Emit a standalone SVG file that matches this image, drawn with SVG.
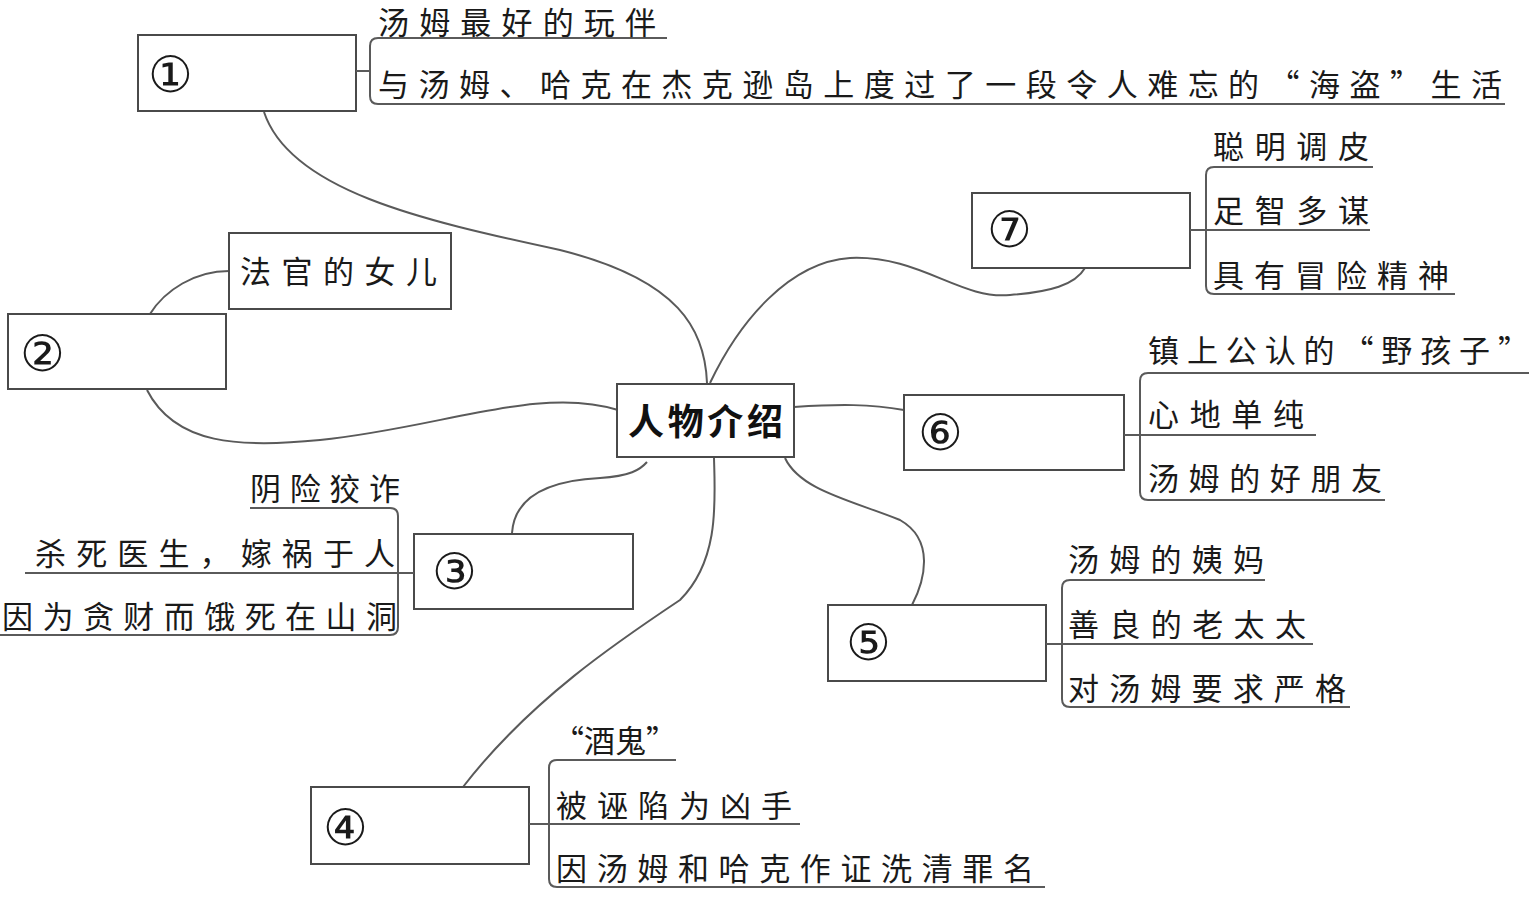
<svg xmlns="http://www.w3.org/2000/svg" width="1529" height="902" viewBox="0 0 1529 902">
<style>
.box{fill:#fff;stroke:#4a4a4a;stroke-width:2}
.ln{fill:none;stroke:#5a5a5a;stroke-width:2}
.br{fill:none;stroke:#5a5a5a;stroke-width:2}
.t{font-family:"Noto Sans CJK SC","Noto Sans",sans-serif;font-size:31px;fill:#1a1a1a}
.num{font-family:"Liberation Serif","DejaVu Serif",serif;font-size:50px;fill:#1a1a1a}
.c{font-family:"Noto Sans CJK SC","Noto Sans",sans-serif;font-size:36px;font-weight:bold;fill:#111}
</style>
<rect width="1529" height="902" fill="#fff"/>
<g id="connectors">
<path class="ln" d="M264,112 C290,190 420,220 560,250 C680,280 705,330 707,383"/>
<path class="ln" d="M150,314 C165,290 195,271 229,271"/>
<path class="ln" d="M147,390 C175,445 240,448 320,440 C440,428 540,385 618,410"/>
<path class="ln" d="M512,533 C515,490 560,480 600,478 C630,476 640,470 647,462"/>
<path class="ln" d="M463,787 C530,700 620,640 680,600 C720,560 715,500 714,458"/>
<path class="ln" d="M912,605 C925,580 935,540 900,520 C850,500 800,490 785,458"/>
<path class="ln" d="M794,407 C840,404 870,404 904,410"/>
<path class="ln" d="M710,383 C740,320 790,262 850,258 C920,255 960,300 1010,295 C1050,292 1075,285 1085,268"/>
</g>
<g id="center">
<rect class="box" x="617" y="384" width="177" height="73"/>
<text class="c" x="628" y="435" textLength="155" lengthAdjust="spacing">人物介绍</text>
</g>
<g id="node1">
<rect class="box" x="138" y="35" width="218" height="76"/>
<text class="num" x="148" y="92">①</text>
<path class="br" d="M356,71 H370 M667,38 H378 Q370,38 370,46 V96 Q370,104 378,104 H1505"/>
<text class="t" x="378" y="34" font-size="29" textLength="278" lengthAdjust="spacing">汤姆最好的玩伴</text>
<text class="t" x="378" y="96" textLength="1124" lengthAdjust="spacing">与汤姆、哈克在杰克逊岛上度过了一段令人难忘的“海盗”生活</text>
</g>
<g id="node2">
<rect class="box" x="8" y="314" width="218" height="75"/>
<text class="num" x="20" y="371">②</text>
<rect class="box" x="229" y="233" width="222" height="76"/>
<text class="t" x="240" y="283" textLength="197" lengthAdjust="spacing">法官的女儿</text>
</g>
<g id="node3">
<rect class="box" x="414" y="534" width="219" height="75"/>
<text class="num" x="432" y="589">③</text>
<path class="br" d="M414,573 H398 M250,508 H390 Q398,508 398,516 V627 Q398,635 390,635 H0 M25,573 H398"/>
<text class="t" x="250" y="500" textLength="150" lengthAdjust="spacing">阴险狡诈</text>
<text class="t" x="35" y="565" textLength="360" lengthAdjust="spacing">杀死医生，嫁祸于人</text>
<text class="t" x="2" y="628" textLength="395" lengthAdjust="spacing">因为贪财而饿死在山洞</text>
</g>
<g id="node4">
<rect class="box" x="311" y="787" width="218" height="77"/>
<text class="num" x="323" y="845">④</text>
<path class="br" d="M529,824 H800 M676,760 H557 Q549,760 549,768 V879 Q549,887 557,887 H1045"/>
<text class="t" x="553" y="752" textLength="124" lengthAdjust="spacing">“酒鬼”</text>
<text class="t" x="556" y="817" textLength="236" lengthAdjust="spacing">被诬陷为凶手</text>
<text class="t" x="556" y="880" textLength="478" lengthAdjust="spacing">因汤姆和哈克作证洗清罪名</text>
</g>
<g id="node5">
<rect class="box" x="828" y="605" width="218" height="76"/>
<text class="num" x="846" y="660">⑤</text>
<path class="br" d="M1046,644 H1313 M1265,580 H1070 Q1062,580 1062,588 V699 Q1062,707 1070,707 H1350"/>
<text class="t" x="1068" y="571" textLength="196" lengthAdjust="spacing">汤姆的姨妈</text>
<text class="t" x="1068" y="636" textLength="238" lengthAdjust="spacing">善良的老太太</text>
<text class="t" x="1068" y="700" textLength="278" lengthAdjust="spacing">对汤姆要求严格</text>
</g>
<g id="node6">
<rect class="box" x="904" y="395" width="220" height="75"/>
<text class="num" x="918" y="450">⑥</text>
<path class="br" d="M1124,435 H1316 M1529,373 H1148 Q1140,373 1140,381 V492 Q1140,500 1148,500 H1385"/>
<text class="t" x="1148" y="362" textLength="381" lengthAdjust="spacing">镇上公认的“野孩子”</text>
<text class="t" x="1148" y="426" textLength="156" lengthAdjust="spacing">心地单纯</text>
<text class="t" x="1148" y="490" textLength="234" lengthAdjust="spacing">汤姆的好朋友</text>
</g>
<g id="node7">
<rect class="box" x="972" y="193" width="218" height="75"/>
<text class="num" x="987" y="247">⑦</text>
<path class="br" d="M1190,230 H1370 M1373,167 H1214 Q1206,167 1206,175 V286 Q1206,294 1214,294 H1455"/>
<text class="t" x="1213" y="158" textLength="156" lengthAdjust="spacing">聪明调皮</text>
<text class="t" x="1213" y="222" textLength="156" lengthAdjust="spacing">足智多谋</text>
<text class="t" x="1213" y="287" textLength="236" lengthAdjust="spacing">具有冒险精神</text>
</g>
</svg>
